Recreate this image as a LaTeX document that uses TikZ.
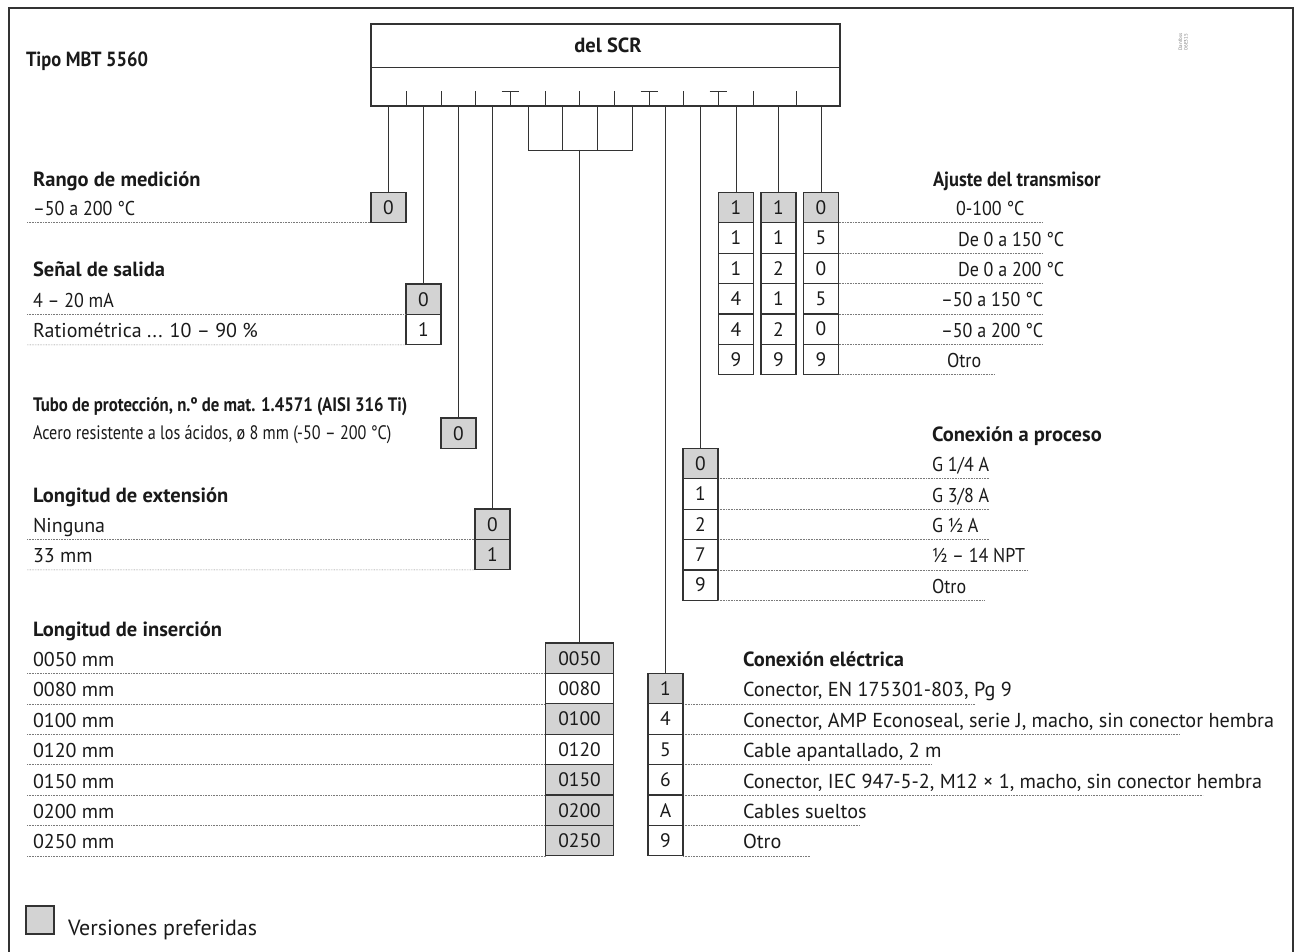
\documentclass[tikz,border=0pt]{standalone}
\usepackage{fontspec}
\setmainfont{PT Sans}
\newfontfamily\cnd[FakeStretch=0.86]{PT Sans}
\newfontfamily\cndr[FakeStretch=0.83]{PT Sans}
\newfontfamily\tgt[FakeStretch=0.9]{PT Sans}
\definecolor{dk}{HTML}{333333}
\definecolor{pg}{HTML}{D3D3D3}
\definecolor{dotc}{HTML}{7A7A7A}
\definecolor{tx}{HTML}{1A1A1A}
\tikzset{
 cell/.style={draw=dk, line width=1.2pt, minimum width=35pt, minimum height=30.4pt, inner sep=0pt, outer sep=0pt, anchor=north west, font=\fontsize{19.5}{21}\selectfont, text=tx},
 pref/.style={cell, fill=pg},
 conn/.style={draw=dk, line width=0.9pt},
 dotl/.style={draw=dotc, line width=0.6pt, dash pattern=on 0.7pt off 0.9pt},
 txt/.style={anchor=base west, inner sep=0pt, outer sep=0pt, font=\fontsize{20}{22}\selectfont, text=tx},
 etxt/.style={txt, font=\fontsize{20.2}{22}\selectfont},
 ttxt/.style={txt, font=\fontsize{20}{22}\selectfont\tgt},
 hd/.style={txt, font=\fontsize{20.5}{22}\selectfont\bfseries},
 thd/.style={txt, font=\fontsize{20.5}{22}\selectfont\tgt\bfseries},
 ctxt/.style={txt, font=\fontsize{19.5}{22}\selectfont\cndr},
 chd/.style={txt, font=\fontsize{19.5}{22}\selectfont\cnd\bfseries},
}
\begin{document}
\begin{tikzpicture}[x=1pt,y=-1pt]
\useasboundingbox (0,0) rectangle (1295,952);
\fill[white] (0,0) rectangle (1295,952);
% frame
\draw[draw=dk, line width=1.6pt] (9,952) -- (9,8) -- (1293,8) -- (1293,952);
\node[rotate=90, font=\fontsize{5}{5.5}\selectfont, text=gray, align=center, inner sep=0pt] (code) at (1183,42) {Danfoss\\06E315};

\node[thd] (tipo) at (26,67) {Tipo MBT 5560};

% SCR box
\node[draw=dk, line width=1.2pt, minimum width=469pt, minimum height=82pt, anchor=north west, inner sep=0pt, outer sep=0pt] (scr) at (371,24) {};
\draw[conn] ([yshift=-43pt]scr.north west) -- ([yshift=-43pt]scr.north east);
\node[hd, anchor=base] (scrlbl) at (608,53) {del SCR};
\foreach \x in {406,441,475,545,579,614,683,753,796} \draw[conn] (\x,106) -- (\x,91);
\foreach \x in {510,649,718} {\draw[conn] (\x,106) -- (\x,91); \draw[conn] (\x-8.5,91) -- (\x+8.5,91);}

% Rango de medicion
\node[hd] (h1) at (33,186) {Rango de medición};
\node[pref] (r0) at (371,192.3) {0};
\node[ttxt] (r0t) at (33,215.7) {–50 a 200 °C};
\draw[dotl] (27,222.7) -- (r0.south west);
\coordinate (t1) at (388.5,106);
\draw[conn] (t1) -- (r0.north);

% Senal de salida
\node[hd] (h2) at (33,276) {Señal de salida};
\node[pref] (s0) at (406,284) {0};
\node[cell] (s1) at (406,314.4) {1};
\node[ttxt] (s0t) at (33,307.4) {4 – 20 mA};
\node[txt] (s1t) at (33,337.8) {Ratiométrica ... 10 – 90 \%};
\draw[dotl] (27,314.4) -- (s0.south west);
\draw[dotl] (27,344.8) -- (s1.south west);
\coordinate (t2) at (423.5,106);
\draw[conn] (t2) -- (s0.north);

% Tubo
\node[chd] (h3) at (33,411) {Tubo de protección, n.º de mat. 1.4571 (AISI 316 Ti)};
\node[ctxt] (p0t) at (33,439) {Acero resistente a los ácidos, ø 8 mm (-50 – 200 °C)};
\node[pref] (p0) at (441,418) {0};
\coordinate (t3) at (458.5,106);
\draw[conn] (t3) -- (p0.north);

% Extension
\node[hd] (h4) at (33,502.7) {Longitud de extensión};
\node[pref] (e0) at (475,509) {0};
\node[pref] (e1) at (475,539.4) {1};
\node[txt] (e0t) at (33,532.4) {Ninguna};
\node[txt] (e1t) at (33,562.8) {33 mm};
\draw[dotl] (27,539.4) -- (e0.south west);
\draw[dotl] (27,569.8) -- (e1.south west);
\coordinate (t4) at (492.5,106);
\draw[conn] (t4) -- (e0.north);

% Insercion
\node[hd] (h5) at (33,636.7) {Longitud de inserción};
\foreach \v/\s [count=\i from 0] in {0050/pref,0080/cell,0100/pref,0120/cell,0150/pref,0200/pref,0250/pref} {
  \node[\s, minimum width=68pt] (i\i) at (545.5,643+30.4*\i) {\v};
  \node[txt] (it\i) at (33,643+30.4*\i+23.4) {\v{} mm};
  \draw[dotl] (27,643+30.4*\i+30.4) -- (i\i.south west);
}
\draw[conn] (528,106) -- (528,150) -- (632,150) -- (632,106);
\draw[conn] (562,106) -- (562,150);
\draw[conn] (597,106) -- (597,150);
\coordinate (brk) at (579.5,150);
\draw[conn] (brk) -- (i0.north);

% Conexion electrica
\node[hd] (h6) at (743,666) {Conexión eléctrica};
\foreach \v/\s/\e/\t [count=\i from 0] in {
  1/pref/975/{Conector, EN 175301-803, Pg 9},
  4/cell/1180/{Conector, AMP Econoseal, serie J, macho, sin conector hembra},
  5/cell/932/{Cable apantallado, 2 m},
  6/cell/1203/{Conector, IEC 947-5-2, M12 × 1, macho, sin conector hembra},
  A/cell/860/{Cables sueltos},
  9/cell/810/{Otro}} {
  \node[\s] (c\i) at (648,673.4+30.4*\i) {\v};
  \node[etxt] (ct\i) at (743,673.4+30.4*\i+23.4) {\t};
  \draw[dotl] (c\i.south east) -- (\e,673.4+30.4*\i+30.4);
}
\coordinate (t6) at (665.5,106);
\draw[conn] (t6) -- (c0.north);

% Conexion a proceso
\node[hd] (h7) at (932,441.7) {Conexión a proceso};
\foreach \v/\s/\e/\t [count=\i from 0] in {
  0/pref/989/{G 1/4 A},
  1/cell/989/{G 3/8 A},
  2/cell/989/{G ½ A},
  7/cell/1027/{½ – 14 NPT},
  9/cell/985/{Otro}} {
  \node[\s] (k\i) at (683,448.3+30.4*\i) {\v};
  \node[ttxt] (kt\i) at (932,448.3+30.4*\i+23.4) {\t};
  \draw[dotl] (k\i.south east) -- (\e,448.3+30.4*\i+30.4);
}
\coordinate (t7) at (700.5,106);
\draw[conn] (t7) -- (k0.north);

% Ajuste del transmisor
\node[thd] (h8) at (933,186.7) {Ajuste del transmisor};
\foreach \a/\b/\c/\s/\x/\e/\t [count=\i from 0] in {
  1/1/0/pref/956/1043/{0-100 °C},
  1/1/5/cell/958/1043/{De 0 a 150 °C},
  1/2/0/cell/958/1043/{De 0 a 200 °C},
  4/1/5/cell/941/1043/{–50 a 150 °C},
  4/2/0/cell/941/1043/{–50 a 200 °C},
  9/9/9/cell/947/994/{Otro}} {
  \node[\s] (a\i) at (718.5,192.3+30.4*\i) {\a};
  \node[\s] (b\i) at (761,192.3+30.4*\i) {\b};
  \node[\s] (d\i) at (803.5,192.3+30.4*\i) {\c};
  \node[ttxt] (at\i) at (\x,192.3+30.4*\i+23.4) {\t};
  \draw[dotl] (d\i.south east) -- (\e,192.3+30.4*\i+30.4);
}
\coordinate (t8a) at (736,106);
\coordinate (t8b) at (778.5,106);
\coordinate (t8c) at (821,106);
\draw[conn] (t8a) -- (a0.north);
\draw[conn] (t8b) -- (b0.north);
\draw[conn] (t8c) -- (d0.north);

% legend
\node[pref, minimum width=28pt, minimum height=28pt] (leg) at (26,906) {};
\node[txt, font=\fontsize{22}{24}\selectfont] (legt) at (68,935) {Versiones preferidas};
\end{tikzpicture}
\end{document}
